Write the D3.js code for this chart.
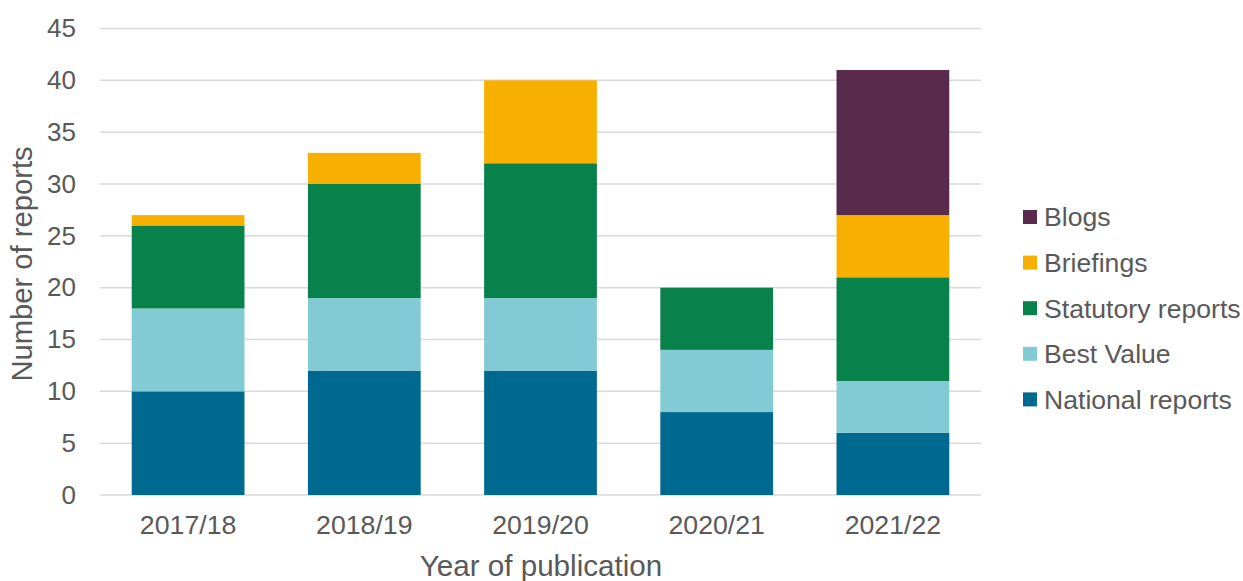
<!DOCTYPE html>
<html>
<head>
<meta charset="utf-8">
<script src="https://cdn.jsdelivr.net/npm/d3@7/dist/d3.min.js"></script>
<style>
  html, body { margin: 0; padding: 0; background: #ffffff; }
  svg { display: block; }
  text { font-family: "Liberation Sans", Arial, sans-serif; fill: #595959; }
</style>
</head>
<body>
<svg id="chart" width="1243" height="581"></svg>
<script>
const categories = ["2017/18", "2018/19", "2019/20", "2020/21", "2021/22"];
const seriesNames = ["National reports", "Best Value", "Statutory reports", "Briefings", "Blogs"];
const nationalReports = [10, 12, 12, 8, 6];
const bestValue = [8, 7, 7, 6, 5];
const statutoryReports = [8, 11, 13, 6, 10];
const briefings = [1, 3, 8, 0, 6];
const blogs = [0, 0, 0, 0, 14];
const yTicks = [0, 5, 10, 15, 20, 25, 30, 35, 40, 45];
const colors = ["#00698F", "#82CBD4", "#08814A", "#F8B000", "#582A4C"];

const seriesValues = [nationalReports, bestValue, statutoryReports, briefings, blogs];
const rows = categories.map((c, i) => {
  const r = { cat: c };
  seriesNames.forEach((s, j) => { r[s] = seriesValues[j][i]; });
  return r;
});

const svg = d3.select("#chart");
const x = d3.scaleBand().domain(categories).range([100, 981]).paddingInner(0.36).paddingOuter(0.18);
const y = d3.scaleLinear().domain([0, 45]).range([495, 28.5]);

// gridlines
svg.append("g").selectAll("line").data(yTicks).join("line")
  .attr("x1", 100).attr("x2", 981)
  .attr("y1", d => y(d)).attr("y2", d => y(d))
  .attr("stroke", "#D9D9D9").attr("stroke-width", 1.5);

// bars
const stack = d3.stack().keys(seriesNames)(rows);
svg.append("g").selectAll("g").data(stack).join("g")
  .attr("fill", (d, i) => colors[i])
  .selectAll("rect").data(d => d).join("rect")
  .attr("x", d => x(d.data.cat))
  .attr("width", x.bandwidth())
  .attr("y", d => y(d[1]))
  .attr("height", d => y(d[0]) - y(d[1]));

// y axis
const yAxis = d3.axisLeft(y).tickValues(yTicks).tickSize(0).tickPadding(0);
const gy = svg.append("g").attr("transform", "translate(76,0)").call(yAxis);
gy.select(".domain").remove();
gy.selectAll("text").attr("font-size", 26).style("fill", "#595959")
  .attr("font-family", "Liberation Sans, Arial, sans-serif");

// x axis
const xAxis = d3.axisBottom(x).tickSize(0).tickPadding(0);
const gx = svg.append("g").attr("transform", "translate(0,515)").call(xAxis);
gx.select(".domain").remove();
gx.selectAll("text").attr("font-size", 26.7).style("fill", "#595959")
  .attr("font-family", "Liberation Sans, Arial, sans-serif");

// axis titles
svg.append("text").attr("x", 541).attr("y", 576).attr("text-anchor", "middle")
  .attr("font-size", 29.6).text("Year of publication");
svg.append("text").attr("transform", "translate(32,264) rotate(-90)")
  .attr("text-anchor", "middle").attr("font-size", 29.2).text("Number of reports");

// legend
const legendOrder = seriesNames.map((s, i) => i).reverse();
const lg = svg.append("g").selectAll("g").data(legendOrder).join("g")
  .attr("transform", (d, k) => `translate(1023,${217 + k * 45.6})`);
lg.append("rect").attr("x", 0).attr("y", -7).attr("width", 14).attr("height", 14)
  .attr("fill", d => colors[d]);
lg.append("text").attr("x", 21).attr("y", 0).attr("dy", "0.35em")
  .attr("font-size", 26.6).text(d => seriesNames[d]);
</script>
</body>
</html>
